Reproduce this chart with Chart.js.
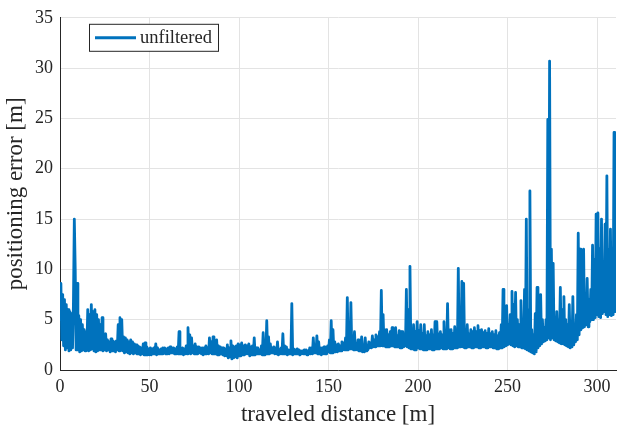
<!DOCTYPE html>
<html>
<head>
<meta charset="utf-8">
<script src="https://cdn.jsdelivr.net/npm/chart.js@4.4.1/dist/chart.umd.min.js"></script>
<style>
    html, body { margin: 0; padding: 0; background: #fff; }
    #wrap { width: 617px; height: 426px; }
</style>
</head>
<body>
<div id="wrap"><canvas id="errorChart" width="617" height="426"></canvas></div>
<script>
// positioning error [m], one sample every 0.5 m
const errorUnfiltered = [
    5.0, 8.6, 3.0, 7.5, 2.4, 7.0, 2.0, 6.5, 2.2, 6.0, 1.9, 5.8, 2.0, 5.6, 2.2, 6.5, 15.0, 10.0, 2.0, 8.6,
    2.0, 5.4, 1.8, 5.0, 1.9, 4.5, 2.0, 4.0, 1.9, 3.8, 2.0, 6.0, 1.9, 5.5, 2.0, 6.5, 2.1, 5.8, 1.9, 6.0,
    1.8, 5.5, 1.9, 5.0, 2.0, 4.5, 2.0, 5.2, 1.9, 3.5, 2.0, 3.6, 1.9, 3.0, 2.0, 2.8, 1.8, 3.1, 1.9, 2.9,
    1.9, 2.8, 1.8, 2.9, 2.0, 4.5, 1.9, 5.2, 2.0, 5.0, 1.9, 3.3, 1.7, 3.2, 1.8, 3.0, 1.7, 2.8, 1.6, 3.0,
    1.7, 2.8, 1.6, 2.6, 1.7, 2.5, 1.6, 2.4, 1.6, 2.3, 1.5, 2.2, 1.6, 2.6, 1.5, 2.7, 1.5, 2.3, 1.5, 2.1,
    1.5, 2.2, 1.5, 2.1, 1.6, 2.2, 1.6, 2.6, 1.5, 2.2, 1.6, 2.0, 1.6, 2.1, 1.6, 2.2, 1.7, 2.2, 1.6, 2.1,
    1.6, 2.2, 1.6, 2.3, 1.7, 2.2, 1.7, 2.2, 1.6, 2.1, 1.6, 2.3, 1.6, 3.8, 1.6, 2.2, 1.6, 2.2, 1.5, 2.1,
    1.6, 2.4, 1.6, 4.2, 1.7, 3.5, 1.6, 3.2, 1.7, 2.4, 1.6, 2.6, 1.6, 2.3, 1.6, 2.3, 1.7, 2.2, 1.6, 2.2,
    1.5, 2.2, 1.6, 2.4, 1.6, 2.2, 1.6, 3.2, 1.7, 2.8, 1.6, 3.3, 1.6, 2.6, 1.6, 3.0, 1.5, 2.4, 1.5, 2.3,
    1.6, 2.2, 1.5, 2.2, 1.4, 2.1, 1.4, 2.5, 1.2, 2.2, 1.3, 2.9, 1.1, 2.4, 1.2, 2.3, 1.3, 2.4, 1.2, 2.6,
    1.4, 2.5, 1.4, 2.7, 1.5, 2.4, 1.5, 2.5, 1.6, 2.4, 1.6, 2.6, 1.4, 2.3, 1.5, 2.4, 1.5, 3.2, 1.5, 2.2,
    1.6, 2.2, 1.6, 2.0, 1.6, 2.4, 1.5, 3.7, 1.5, 2.6, 1.6, 4.9, 1.6, 3.3, 1.6, 2.6, 1.7, 2.2, 1.7, 2.3,
    1.6, 2.2, 1.6, 2.8, 1.5, 2.0, 1.6, 2.2, 1.6, 3.6, 1.6, 2.4, 1.6, 2.3, 1.5, 2.0, 1.6, 2.0, 1.6, 6.6,
    1.5, 2.1, 1.6, 2.0, 1.6, 2.1, 1.6, 2.0, 1.5, 1.9, 1.6, 1.9, 1.6, 2.0, 1.6, 2.0, 1.5, 1.9, 1.6, 2.2,
    1.6, 2.2, 1.6, 3.2, 1.7, 2.5, 1.7, 3.4, 1.6, 2.8, 1.6, 2.2, 1.5, 2.2, 1.6, 2.3, 1.6, 2.1, 1.6, 2.4,
    1.8, 3.0, 1.7, 4.9, 1.7, 4.0, 1.8, 2.8, 1.8, 2.5, 1.8, 2.6, 1.9, 2.4, 1.9, 2.8, 2.0, 2.7, 2.0, 3.2,
    2.0, 7.2, 2.0, 3.2, 2.1, 6.7, 2.1, 3.0, 2.0, 3.8, 2.0, 2.6, 2.0, 3.0, 1.9, 2.4, 1.9, 3.3, 1.8, 2.4,
    1.8, 3.2, 1.9, 2.5, 2.0, 2.8, 2.2, 2.7, 2.2, 3.4, 2.3, 3.0, 2.3, 3.5, 2.4, 3.3, 2.4, 3.8, 2.4, 7.9,
    2.4, 5.5, 2.4, 4.0, 2.3, 4.0, 2.3, 3.5, 2.3, 3.8, 2.4, 4.2, 2.4, 3.6, 2.3, 4.2, 2.3, 3.4, 2.3, 3.9,
    2.2, 3.8, 2.2, 3.8, 2.3, 3.5, 2.4, 8.0, 2.3, 6.0, 2.2, 10.3, 2.1, 3.5, 2.1, 4.5, 2.0, 3.8, 2.0, 4.8,
    2.2, 3.9, 2.1, 4.5, 2.1, 3.6, 2.0, 4.5, 2.0, 3.4, 2.0, 3.8, 2.1, 3.5, 2.1, 4.0, 2.0, 3.5, 2.0, 4.8,
    2.1, 4.8, 2.1, 3.6, 2.1, 3.8, 2.2, 3.5, 2.1, 4.8, 2.1, 3.6, 2.1, 6.6, 2.2, 4.0, 2.1, 4.0, 2.1, 3.6,
    2.2, 4.3, 2.2, 3.8, 2.2, 10.1, 2.3, 5.0, 2.3, 8.8, 2.3, 8.6, 2.2, 4.0, 2.2, 4.5, 2.3, 3.6, 2.3, 4.0,
    2.2, 3.8, 2.2, 4.2, 2.3, 3.8, 2.3, 4.4, 2.2, 3.9, 2.2, 4.0, 2.3, 3.7, 2.3, 3.9, 2.2, 3.6, 2.2, 4.1,
    2.3, 3.6, 2.3, 3.8, 2.2, 3.5, 2.2, 3.9, 2.1, 3.4, 2.1, 3.7, 2.2, 4.5, 2.2, 8.0, 2.3, 5.5, 2.4, 6.4,
    2.5, 4.5, 2.6, 5.5, 2.5, 7.8, 2.4, 6.5, 2.3, 7.7, 2.4, 5.0, 2.3, 4.5, 2.3, 6.9, 2.2, 5.0, 2.2, 8.0,
    2.1, 15.0, 2.0, 6.0, 1.9, 17.8, 1.8, 4.0, 1.7, 3.5, 1.6, 5.6, 1.8, 8.2, 2.2, 4.5, 2.4, 7.5, 2.6, 5.0,
    2.8, 4.2, 2.9, 5.0, 3.0, 24.9, 3.2, 30.7, 3.0, 12.0, 3.2, 10.6, 3.0, 5.0, 2.9, 5.8, 2.8, 5.0, 2.7, 8.2,
    2.6, 6.0, 2.6, 7.3, 2.5, 5.0, 2.4, 4.5, 2.3, 6.5, 2.2, 4.0, 2.3, 7.3, 2.5, 4.5, 2.8, 5.5, 3.0, 13.6,
    3.5, 12.0, 4.0, 7.5, 4.2, 12.0, 4.3, 6.5, 4.5, 9.1, 4.3, 7.0, 4.8, 8.0, 5.0, 12.4, 5.0, 11.0, 5.2, 15.5,
    5.5, 15.6, 5.3, 12.0, 5.2, 15.0, 5.6, 9.0, 5.8, 14.5, 5.5, 19.3, 5.3, 12.0, 5.5, 14.0, 5.4, 10.0, 5.5, 23.6,
    5.8, 12.8
];

// traveled distance [m] of each sample
const distance = errorUnfiltered.map((_, i) => i * 0.5);

const xTicks = [0, 50, 100, 150, 200, 250, 300];
const yTicks = [0, 5, 10, 15, 20, 25, 30, 35];
const seriesLabel = 'unfiltered';

const lineColor = '#0072BD';
const axisColor = '#262626';
const gridColor = '#e3e3e3';
const serif = "'Liberation Serif', 'DejaVu Serif', serif";

// boxed legend in the top left corner of the plot, like MATLAB's
const boxLegend = {
    id: 'boxLegend',
    afterDraw(chart) {
        const ctx = chart.ctx;
        const area = chart.chartArea;
        const x = area.left + 29;
        const y = area.top + 6;
        const w = 129;
        const h = 27;
        ctx.save();
        ctx.fillStyle = '#fff';
        ctx.fillRect(x, y, w, h);
        ctx.strokeStyle = axisColor;
        ctx.lineWidth = 1;
        ctx.strokeRect(x + 0.5, y + 0.5, w, h);
        ctx.strokeStyle = lineColor;
        ctx.lineWidth = 3;
        ctx.beginPath();
        ctx.moveTo(x + 6, y + 14);
        ctx.lineTo(x + 47, y + 14);
        ctx.stroke();
        ctx.fillStyle = axisColor;
        ctx.font = '18.5px ' + serif;
        ctx.textBaseline = 'middle';
        ctx.fillText(seriesLabel, x + 51, y + 14);
        ctx.restore();
    }
};

const ctx = document.getElementById('errorChart').getContext('2d');
const errorChart = new Chart(ctx, {
    type: 'line',
    data: {
        datasets: [{
            label: seriesLabel,
            data: distance.map((d, i) => ({ x: d, y: errorUnfiltered[i] })),
            borderColor: lineColor,
            backgroundColor: lineColor,
            borderWidth: 2.8,
            pointRadius: 0,
            tension: 0,
            borderJoinStyle: 'round'
        }]
    },
    options: {
        responsive: false,
        animation: false,
        layout: {
            padding: { top: 16, right: 1, left: 0, bottom: 0 }
        },
        plugins: {
            legend: { display: false },
            tooltip: { enabled: false }
        },
        scales: {
            x: {
                type: 'linear',
                min: 0,
                max: 310.6,
                afterBuildTicks: (scale) => { scale.ticks = xTicks.map(v => ({ value: v })); },
                afterFit: (scale) => { scale.height = 56; },
                ticks: {
                    color: axisColor,
                    padding: 6,
                    font: { family: serif, size: 18 }
                },
                grid: { color: gridColor, drawTicks: false },
                border: { color: axisColor, width: 1 },
                title: {
                    display: true,
                    text: 'traveled distance [m]',
                    color: axisColor,
                    padding: { top: 0, bottom: -3 },
                    font: { family: serif, size: 23 }
                }
            },
            y: {
                type: 'linear',
                min: 0,
                max: 35,
                afterBuildTicks: (scale) => { scale.ticks = yTicks.map(v => ({ value: v })); },
                afterFit: (scale) => { scale.width = 60; },
                ticks: {
                    color: axisColor,
                    padding: 7,
                    font: { family: serif, size: 18 }
                },
                grid: { color: gridColor, drawTicks: false },
                border: { color: axisColor, width: 1 },
                title: {
                    display: true,
                    text: 'positioning error [m]',
                    color: axisColor,
                    padding: { top: 2, bottom: 0 },
                    font: { family: serif, size: 23 }
                }
            }
        }
    },
    plugins: [boxLegend]
});
</script>
</body>
</html>
